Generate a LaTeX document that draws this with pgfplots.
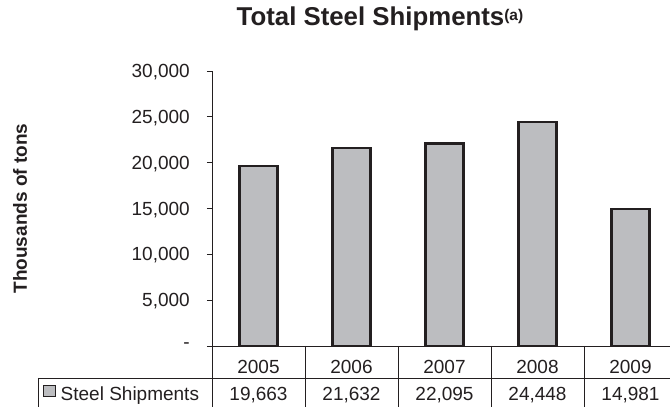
\documentclass[border=0pt]{standalone}
\usepackage{pgfplots}
\pgfplotsset{compat=1.18}
\usepackage{fontspec}
\setmainfont{Liberation Sans}
\definecolor{barfill}{HTML}{BCBDC0}
\definecolor{ink}{HTML}{231F20}
\begin{document}
\fontsize{19}{22}\selectfont
\begin{tikzpicture}[font=\fontsize{19}{22}\selectfont]
\path[use as bounding box] (-212pt,-61pt) rectangle (458pt,346pt);
\begin{axis}[
  scale only axis, width=465pt, height=275pt,
  xmin=-0.5, xmax=4.5, ymin=0, ymax=30000,
  axis x line*=bottom, axis y line*=left,
  axis line style={ink, line width=0.9pt, -},
  xtick={0,...,4}, xticklabels={2005,2006,2007,2008,2009},
  x tick style={draw=none},
  xticklabel style={anchor=center, yshift=-15.5pt, text depth=0pt, inner sep=0pt, text=ink},
  ytick={0,5000,...,30000},
  yticklabels={-,{5,000},{10,000},{15,000},{20,000},{25,000},{30,000}},
  scaled y ticks=false,
  y tick style={ink, line width=0.9pt},
  tick align=outside, major tick length=5pt,
  yticklabel style={anchor=east, text depth=0pt, inner sep=0pt, xshift=-17pt, text=ink},
  title={Total Steel Shipments\raisebox{5.5pt}{\fontsize{15.5}{16}\selectfont\bfseries (a)}},
  title style={at={(axis description cs:0.3613,1.1429)}, anchor=base, font=\fontsize{25.8}{28}\selectfont\bfseries, text=ink, inner sep=0pt},
  ylabel={Thousands of tons},
  every axis y label/.style={at={(axis description cs:-0.4129,0.5)}, rotate=90, anchor=center, font=\fontsize{19}{22}\selectfont\bfseries, text=ink, inner sep=0pt, text depth=0pt},
  legend style={at={(axis description cs:-0.3634,-0.1418)}, anchor=north west, draw=none, fill=none, inner sep=0pt, outer sep=0pt, column sep=0pt, nodes={inner sep=0pt, text=ink, text depth=0pt}},
  legend image code/.code={\draw[fill=barfill, draw=ink, line width=1.2pt] (0pt,-3pt) rectangle (12pt,8pt); \path (16pt,0pt);},
  clip=false,
]
\addplot[ybar, bar width=38pt, bar shift=0pt, fill=barfill, draw=ink, line width=2.2pt]
  coordinates {(0,19663) (1,21632) (2,22095) (3,24448) (4,14981)};
\addlegendentry{Steel Shipments}
\end{axis}
\draw[ink, line width=0.9pt] (0pt,0pt) -- (0pt,-75pt);
\foreach \i in {1,...,5} {\draw[ink, line width=0.9pt] ({93*\i*1pt},0pt) -- ({93*\i*1pt},-75pt);}
\draw[ink, line width=0.9pt] (-174pt,-32pt) -- (470pt,-32pt);
\draw[ink, line width=0.9pt] (-174pt,-32pt) -- (-174pt,-75pt);
\foreach \v [count=\i from 0] in {{19,663},{21,632},{22,095},{24,448},{14,981}}
  {\node[anchor=base, text=ink, inner sep=0pt] at ({(93*\i+46.5)*1pt},-55pt) {\v};}
\end{tikzpicture}
\end{document}
